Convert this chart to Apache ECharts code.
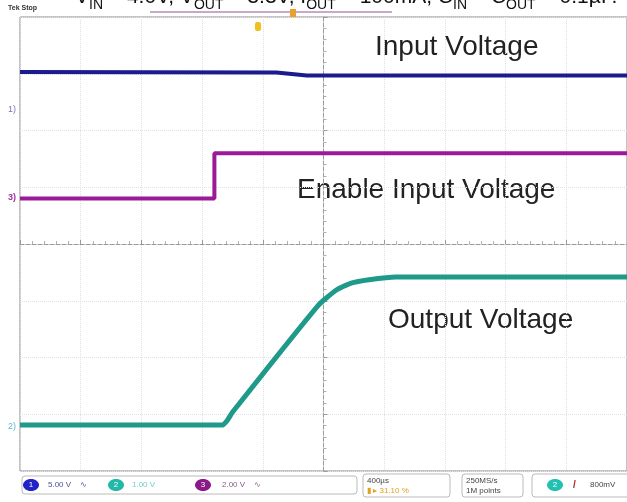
<!DOCTYPE html>
<html>
<head>
<meta charset="utf-8">
<script src="https://cdn.jsdelivr.net/npm/echarts@6/dist/echarts.min.js"></script>
<style>html,body{margin:0;padding:0;background:#fff;}#c{width:627px;height:502px;}</style>
</head>
<body>
<div id="c"></div>
<script>
// time in µs relative to screen centre, amplitude in divisions relative to screen centre
const inputTime = [-2000, -310, -110, 2000];
const inputDiv = [3.03, 3.02, 2.97, 2.97];
const enableTime = [-2000, -719, -719, 2000];
const enableDiv = [0.80, 0.80, 1.60, 1.60];
const outputTime = [-2000, -665, -632, -599, -33, 85, 182, 300, 476, 2000];
const outputDiv = [-3.19, -3.19, -3.10, -2.96, -1.075, -0.81, -0.69, -0.63, -0.58, -0.58];
const traceLabels = ['Input Voltage', 'Enable Input Voltage', 'Output Voltage'];

const pair = (t, v) => t.map((x, i) => [x, v[i]]);
const chart = echarts.init(document.getElementById('c'), null, {renderer: 'canvas'});
const G = {left: 20, top: 17, width: 614, height: 454};
const statusFont = 'Liberation Sans, Arial, sans-serif';

function ellipse(cx, cy, color, label) {
  return [
    {type: 'ellipse', shape: {cx: cx, cy: cy, rx: 8, ry: 6}, style: {fill: color}},
    {type: 'text', x: cx, y: cy, style: {text: label, fill: '#fff', font: '8px ' + statusFont, align: 'center', verticalAlign: 'middle'}}
  ];
}

chart.setOption({
  animation: false,
  backgroundColor: '#fff',
  grid: {left: G.left, top: G.top, width: G.width, height: G.height, show: true, borderColor: '#8a8a8a', borderWidth: 1},
  xAxis: {
    type: 'value', min: -2000, max: 2000, interval: 400,
    axisLine: {onZero: true, lineStyle: {color: '#9a9a9a', type: 'dashed', width: 1}},
    axisTick: {show: true, inside: true, length: 4, lineStyle: {color: '#9a9a9a'}},
    minorTick: {show: true, splitNumber: 5, length: 3, lineStyle: {color: '#b0b0b0'}},
    axisLabel: {show: false},
    splitLine: {show: true, lineStyle: {color: '#e0e0e0', type: 'dotted'}}
  },
  yAxis: {
    type: 'value', min: -4, max: 4, interval: 1,
    axisLine: {onZero: true, show: true, lineStyle: {color: '#9a9a9a', type: 'dashed', width: 1}},
    axisTick: {show: true, inside: true, length: 4, lineStyle: {color: '#9a9a9a'}},
    minorTick: {show: true, splitNumber: 5, length: 3, lineStyle: {color: '#b0b0b0'}},
    axisLabel: {show: false},
    splitLine: {show: true, lineStyle: {color: '#e0e0e0', type: 'dotted'}}
  },
  series: [
    {type: 'line', name: traceLabels[0], data: pair(inputTime, inputDiv), showSymbol: false, lineStyle: {color: '#1b1b8f', width: 4}},
    {type: 'line', name: traceLabels[1], data: pair(enableTime, enableDiv), showSymbol: false, lineStyle: {color: '#9a1a98', width: 4}},
    {type: 'line', name: traceLabels[2], data: pair(outputTime, outputDiv), showSymbol: false, smooth: 0.15, lineStyle: {color: '#1f9a8a', width: 5}}
  ],
  graphic: [
    // cut-off title
    {type: 'text', x: 75, y: -10, style: {
      text: '{m|V}{s|IN}{m| = 4.0V, V}{s|OUT}{m| = 3.3V, I}{s|OUT}{m| = 100mA, C}{s|IN}{m| = C}{s|OUT}{m| = 0.1µF.}',
      verticalAlign: 'top',
      rich: {
        m: {font: '21px ' + statusFont, fill: '#111', lineHeight: 22, padding: [0, 0, 4, 0], verticalAlign: 'bottom'},
        s: {font: '14px ' + statusFont, fill: '#111', lineHeight: 14, verticalAlign: 'bottom'}
      }
    }},
    {type: 'text', x: 8, y: 5, style: {text: 'Tek Stop', font: 'bold 7px ' + statusFont, fill: '#333'}},
    {type: 'line', shape: {x1: 150, y1: 12, x2: 392, y2: 12}, style: {stroke: '#c9a9c9', lineWidth: 2}},
    {type: 'rect', shape: {x: 290, y: 9, width: 6, height: 8}, style: {fill: '#e8a030'}},
    {type: 'rect', shape: {x: 255, y: 22, width: 6, height: 9, r: 2}, style: {fill: '#f0c020'}},
    // trace labels
    {type: 'text', x: 375, y: 47, style: {text: traceLabels[0], font: '28px ' + statusFont, fill: '#222', verticalAlign: 'middle'}},
    {type: 'text', x: 297, y: 190, style: {text: traceLabels[1], font: '28px ' + statusFont, fill: '#222', verticalAlign: 'middle'}},
    {type: 'text', x: 388, y: 320, style: {text: traceLabels[2], font: '28px ' + statusFont, fill: '#222', verticalAlign: 'middle'}},
    // channel ground markers
    {type: 'text', x: 8, y: 110, style: {text: '1)', font: '9px ' + statusFont, fill: '#7a7ab8', verticalAlign: 'middle'}},
    {type: 'text', x: 8, y: 198, style: {text: '3)', font: 'bold 9px ' + statusFont, fill: '#a030a0', verticalAlign: 'middle'}},
    {type: 'text', x: 8, y: 427, style: {text: '2)', font: '9px ' + statusFont, fill: '#60b8c8', verticalAlign: 'middle'}},
    // status bar
    {type: 'rect', shape: {x: 22, y: 476, width: 335, height: 18, r: 3}, style: {fill: 'none', stroke: '#bbb', lineWidth: 1}},
    ...ellipse(31, 485, '#2323c8', '1'),
    {type: 'text', x: 48, y: 485, style: {text: '5.00 V    ∿', font: '8px ' + statusFont, fill: '#5050a0', verticalAlign: 'middle'}},
    ...ellipse(116, 485, '#22b8a8', '2'),
    {type: 'text', x: 132, y: 485, style: {text: '1.00 V', font: '8px ' + statusFont, fill: '#70d0c8', verticalAlign: 'middle'}},
    ...ellipse(203, 485, '#8a1a88', '3'),
    {type: 'text', x: 222, y: 485, style: {text: '2.00 V    ∿', font: '8px ' + statusFont, fill: '#8a5a8a', verticalAlign: 'middle'}},
    {type: 'rect', shape: {x: 363, y: 474, width: 87, height: 23, r: 3}, style: {fill: 'none', stroke: '#bbb', lineWidth: 1}},
    {type: 'text', x: 367, y: 481, style: {text: '400µs', font: '8px ' + statusFont, fill: '#444', verticalAlign: 'middle'}},
    {type: 'text', x: 367, y: 491, style: {text: '▮ ▸ 31.10 %', font: '8px ' + statusFont, fill: '#e0a020', verticalAlign: 'middle'}},
    {type: 'rect', shape: {x: 462, y: 474, width: 61, height: 23, r: 3}, style: {fill: 'none', stroke: '#bbb', lineWidth: 1}},
    {type: 'text', x: 466, y: 481, style: {text: '250MS/s', font: '8px ' + statusFont, fill: '#444', verticalAlign: 'middle'}},
    {type: 'text', x: 466, y: 491, style: {text: '1M points', font: '8px ' + statusFont, fill: '#444', verticalAlign: 'middle'}},
    {type: 'rect', shape: {x: 532, y: 474, width: 110, height: 23, r: 3}, style: {fill: 'none', stroke: '#bbb', lineWidth: 1}},
    ...ellipse(555, 485, '#22c0b0', '2'),
    {type: 'text', x: 573, y: 485, style: {text: '/', font: 'bold 10px ' + statusFont, fill: '#b02020', verticalAlign: 'middle'}},
    {type: 'text', x: 590, y: 485, style: {text: '800mV', font: '8px ' + statusFont, fill: '#444', verticalAlign: 'middle'}}
  ]
});
</script>
</body>
</html>
